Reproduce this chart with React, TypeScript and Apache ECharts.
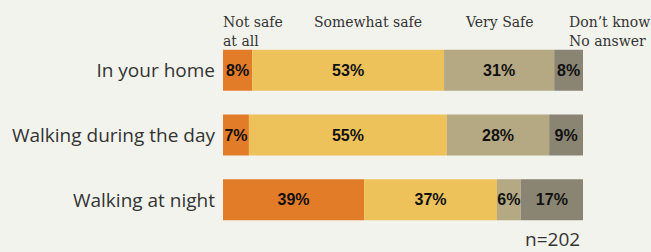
import React, { useEffect, useRef } from "react";
import * as echarts from "echarts";

const categories = ["In your home", "Walking during the day", "Walking at night"];
const seriesNames = ["Not safe at all", "Somewhat safe", "Very Safe", "Don't know / No answer"];
// segment widths (percent)
const notSafe = [8.1, 7.2, 39.2];
const somewhatSafe = [53.3, 55.0, 36.9];
const verySafe = [30.6, 28.4, 6.6];
const dontKnow = [8.0, 9.4, 17.3];
// printed labels
const notSafeLabels = ["8%", "7%", "39%"];
const somewhatSafeLabels = ["53%", "55%", "37%"];
const verySafeLabels = ["31%", "28%", "6%"];
const dontKnowLabels = ["8%", "9%", "17%"];
const legendLines = [
  ["Not safe", "at all"],
  ["Somewhat safe"],
  ["Very Safe"],
  ["Don\u2019t know", "No answer"],
];
const sampleNote = "n=202";

const colors = ["#E37C28", "#EEC25B", "#B5A983", "#8A8572"];

export default function App() {
  const ref = useRef<HTMLDivElement>(null);
  useEffect(() => {
    if (!ref.current) return;
    document.body.style.margin = "0";
    const chart = echarts.init(ref.current, null, { renderer: "svg" });
    const values = [notSafe, somewhatSafe, verySafe, dontKnow];
    const labels = [notSafeLabels, somewhatSafeLabels, verySafeLabels, dontKnowLabels];
    const legendX = [223, 314, 466, 569];
    const graphics: any[] = [];
    legendLines.forEach((lines, i) => {
      lines.forEach((t, j) => {
        graphics.push({
          type: "text",
          left: legendX[i],
          top: 15 + j * 19,
          style: {
            text: t,
            fill: "#333",
            font: "14px 'DejaVu Serif', serif",
          },
        });
      });
    });
    graphics.push({
      type: "text",
      left: 525,
      top: 229,
      style: {
        text: sampleNote,
        fill: "#333",
        font: "19px 'Open Sans', sans-serif",
      },
    });
    chart.setOption({
      animation: false,
      backgroundColor: "#F3F3EE",
      grid: { left: 223, right: 68, top: 38, height: 194 },
      xAxis: { type: "value", min: 0, max: 100, show: false },
      yAxis: {
        type: "category",
        data: categories,
        inverse: true,
        axisLine: { show: false },
        axisTick: { show: false },
        axisLabel: {
          margin: 8,
          color: "#333",
          fontSize: 19,
          fontFamily: "'Open Sans', sans-serif",
        },
      },
      graphic: graphics,
      series: seriesNames.map((name, i) => ({
        name,
        type: "bar",
        stack: "total",
        barWidth: 41,
        itemStyle: { color: colors[i] },
        label: {
          show: true,
          position: "inside",
          color: "#111",
          fontSize: 16,
          fontWeight: "bold",
          fontFamily: "'Liberation Sans', Arial, sans-serif",
          formatter: (p: any) => labels[i][p.dataIndex],
        },
        data: values[i],
      })),
    });
    return () => chart.dispose();
  }, []);
  return <div ref={ref} style={{ width: 651, height: 252 }} />;
}
